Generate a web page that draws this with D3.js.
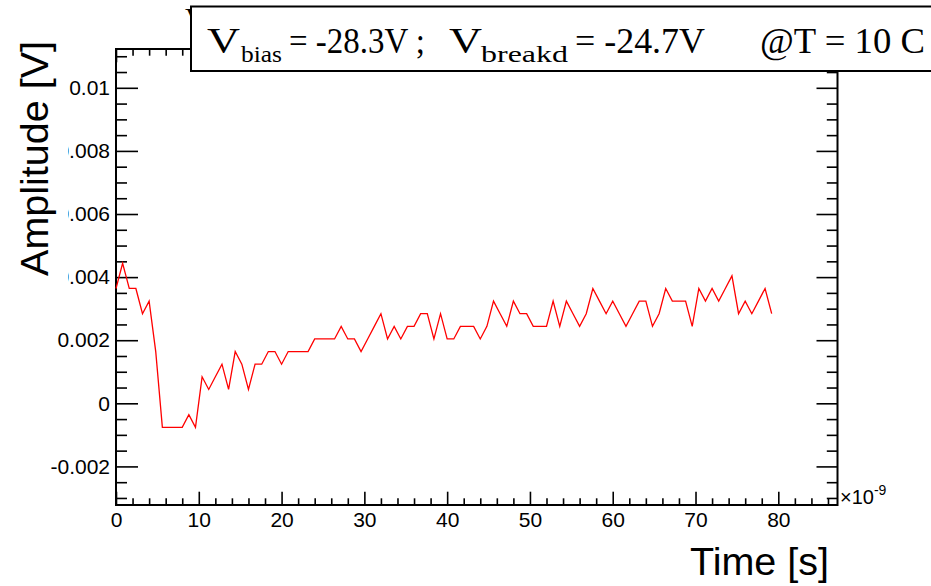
<!DOCTYPE html>
<html>
<head>
<meta charset="utf-8">
<script src="https://cdn.jsdelivr.net/npm/d3@7"></script>
<style>
  html, body { margin: 0; padding: 0; background: #fff; }
  svg { display: block; }
</style>
</head>
<body>
<svg id="chart" width="931" height="586"></svg>
<script>
// Waveform samples: time in ns (axis is shown in units of 1e-9 s), amplitude in V
const timeNs = [
  0.0, 0.8, 1.6, 2.4, 3.2, 4.0, 4.8, 5.6, 6.4, 7.2,
  8.0, 8.8, 9.6, 10.4, 11.2, 12.0, 12.8, 13.6, 14.4, 15.2,
  16.0, 16.8, 17.6, 18.4, 19.2, 20.0, 20.8, 21.6, 22.4, 23.2,
  24.0, 24.8, 25.6, 26.4, 27.2, 28.0, 28.8, 29.6, 30.4, 31.2,
  32.0, 32.8, 33.6, 34.4, 35.2, 36.0, 36.8, 37.6, 38.4, 39.2,
  40.0, 40.8, 41.6, 42.4, 43.2, 44.0, 44.8, 45.6, 46.4, 47.2,
  48.0, 48.8, 49.6, 50.4, 51.2, 52.0, 52.8, 53.6, 54.4, 55.2,
  56.0, 56.8, 57.6, 58.4, 59.2, 60.0, 60.8, 61.6, 62.4, 63.2,
  64.0, 64.8, 65.6, 66.4, 67.2, 68.0, 68.8, 69.6, 70.4, 71.2,
  72.0, 72.8, 73.6, 74.4, 75.2, 76.0, 76.8, 77.6, 78.4, 79.2
];
const amplitudeV = [
  0.00364, 0.00444, 0.00364, 0.00364, 0.00284, 0.00324, 0.00164, -0.00076, -0.00076, -0.00076,
  -0.00076, -0.00036, -0.00076, 0.00084, 0.00044, 0.00084, 0.00124, 0.00044, 0.00164, 0.00124,
  0.00044, 0.00124, 0.00124, 0.00164, 0.00164, 0.00124, 0.00164, 0.00164, 0.00164, 0.00164,
  0.00204, 0.00204, 0.00204, 0.00204, 0.00244, 0.00204, 0.00204, 0.00164, 0.00204, 0.00244,
  0.00284, 0.00204, 0.00244, 0.00204, 0.00244, 0.00244, 0.00284, 0.00284, 0.00204, 0.00284,
  0.00204, 0.00204, 0.00244, 0.00244, 0.00244, 0.00204, 0.00244, 0.00324, 0.00284, 0.00244,
  0.00324, 0.00284, 0.00284, 0.00244, 0.00244, 0.00244, 0.00324, 0.00244, 0.00324, 0.00284,
  0.00244, 0.00284, 0.00364, 0.00324, 0.00284, 0.00324, 0.00284, 0.00244, 0.00284, 0.00324,
  0.00324, 0.00244, 0.00284, 0.00364, 0.00324, 0.00324, 0.00324, 0.00244, 0.00364, 0.00324,
  0.00364, 0.00324, 0.00364, 0.00404, 0.00284, 0.00324, 0.00284, 0.00324, 0.00364, 0.00284
];

// Axis ranges and tick marks
const xDomain = [0, 87.15];
const yDomain = [-0.003223, 0.01123];
const xMajorTicks = [0, 10, 20, 30, 40, 50, 60, 70, 80];
const xMinorTicks = [2, 4, 6, 8, 12, 14, 16, 18, 22, 24, 26, 28, 32, 34, 36, 38, 42, 44, 46, 48,
                     52, 54, 56, 58, 62, 64, 66, 68, 72, 74, 76, 78, 82, 84, 86];
const yMajorTicks = [-0.002, 0, 0.002, 0.004, 0.006, 0.008, 0.01];
const yTickLabels = ["-0.002", "0", "0.002", "0.004", "0.006", "0.008", "0.01"];
const yMinorTicks = [-0.003, -0.0025, -0.0015, -0.001, -0.0005, 0.0005, 0.001, 0.0015,
                     0.0025, 0.003, 0.0035, 0.0045, 0.005, 0.0055, 0.0065, 0.007, 0.0075,
                     0.0085, 0.009, 0.0095, 0.0105, 0.011];

const xTitle = "Time [s]";
const yTitle = "Amplitude [V]";

const svg = d3.select("#chart");
const frame = { left: 116, right: 837.5, top: 49, bottom: 505 };

const x = d3.scaleLinear().domain(xDomain).range([frame.left, frame.right]);
const y = d3.scaleLinear().domain(yDomain).range([frame.bottom, frame.top]);

const sansFont = "'Liberation Sans', Arial, Helvetica, sans-serif";
const serifFont = "'Liberation Serif', 'Times New Roman', serif";

function styleAxis(g) {
  g.select(".domain").remove();
  g.selectAll(".tick line").attr("stroke", "#000").attr("stroke-width", 1.6);
  g.selectAll(".tick text").attr("fill", "#000").attr("font-family", sansFont).attr("font-size", 21);
}

// Bottom axis: labelled major ticks pointing into the frame
svg.append("g")
  .attr("transform", `translate(0,${frame.bottom})`)
  .call(d3.axisBottom(x).tickValues(xMajorTicks).tickSize(-13.3).tickPadding(7).tickFormat(d3.format("d")))
  .call(styleAxis);
svg.append("g")
  .attr("transform", `translate(0,${frame.bottom})`)
  .call(d3.axisBottom(x).tickValues(xMinorTicks).tickSize(-6.7).tickFormat(""))
  .call(styleAxis);

// Top axis mirrors the bottom one
svg.append("g")
  .attr("transform", `translate(0,${frame.top})`)
  .call(d3.axisTop(x).tickValues(xMajorTicks).tickSize(-13.3).tickFormat(""))
  .call(styleAxis);
svg.append("g")
  .attr("transform", `translate(0,${frame.top})`)
  .call(d3.axisTop(x).tickValues(xMinorTicks).tickSize(-6.7).tickFormat(""))
  .call(styleAxis);

// Left axis with labels
svg.append("g")
  .attr("transform", `translate(${frame.left},0)`)
  .call(d3.axisLeft(y).tickValues(yMajorTicks).tickSize(-22).tickPadding(6)
        .tickFormat((d, i) => yTickLabels[i]))
  .call(styleAxis);
svg.append("g")
  .attr("transform", `translate(${frame.left},0)`)
  .call(d3.axisLeft(y).tickValues(yMinorTicks).tickSize(-11).tickFormat(""))
  .call(styleAxis);

// Right axis mirrors the left one
svg.append("g")
  .attr("transform", `translate(${frame.right},0)`)
  .call(d3.axisRight(y).tickValues(yMajorTicks).tickSize(-21).tickFormat(""))
  .call(styleAxis);
svg.append("g")
  .attr("transform", `translate(${frame.right},0)`)
  .call(d3.axisRight(y).tickValues(yMinorTicks).tickSize(-10.7).tickFormat(""))
  .call(styleAxis);

// Frame
svg.append("rect")
  .attr("x", frame.left).attr("y", frame.top)
  .attr("width", frame.right - frame.left).attr("height", frame.bottom - frame.top)
  .attr("fill", "none").attr("stroke", "#000").attr("stroke-width", 2);

// Waveform
const points = timeNs.map((t, i) => [t, amplitudeV[i]]);
svg.append("path")
  .datum(points)
  .attr("fill", "none")
  .attr("stroke", "#ff0000")
  .attr("stroke-width", 1.3)
  .attr("stroke-linejoin", "miter")
  .attr("d", d3.line().x(d => x(d[0])).y(d => y(d[1])));

// Axis exponent
const expo = svg.append("text")
  .attr("x", 840).attr("y", 503.5)
  .attr("font-family", sansFont).attr("font-size", 20).attr("fill", "#000");
expo.append("tspan").text("\u00d710");
expo.append("tspan").attr("font-size", 14).attr("dy", -9).text("-9");

// Axis titles (the y title sits on a white backing)
svg.append("rect").attr("x", 0).attr("y", 30).attr("width", 68).attr("height", 262).attr("fill", "#fff");
svg.append("text")
  .attr("transform", "translate(48,41) rotate(-90)")
  .attr("text-anchor", "end")
  .attr("font-family", sansFont).attr("font-size", 39.5).attr("fill", "#000")
  .text(yTitle);
svg.append("text")
  .attr("x", 829).attr("y", 575)
  .attr("text-anchor", "end")
  .attr("font-family", sansFont).attr("font-size", 39.5).attr("fill", "#000")
  .text(xTitle);

// Hidden plot title peeking out at the box corner
svg.append("text")
  .attr("x", 185).attr("y", 28)
  .attr("font-family", serifFont).attr("font-size", 30).attr("fill", "#000")
  .text("V");

// Run conditions box
svg.append("rect")
  .attr("x", 191).attr("y", 6.5).attr("width", 760).attr("height", 64.5)
  .attr("fill", "#fff").attr("stroke", "#000").attr("stroke-width", 2);

const labelParts = [
  { text: "V", x: 207, sub: false, len: 33 },
  { text: "bias", x: 241, sub: true, len: 41 },
  { text: "= -28.3V ;", x: 289, sub: false, len: 136 },
  { text: "V", x: 449, sub: false, len: 33 },
  { text: "breakd", x: 481, sub: true, len: 87 },
  { text: "= -24.7V", x: 575, sub: false, len: 130 },
  { text: "@T = 10 C", x: 760, sub: false, len: 165 }
];
const label = svg.append("g").attr("font-family", serifFont).attr("fill", "#000");
label.selectAll("text")
  .data(labelParts)
  .join("text")
  .attr("x", d => d.x)
  .attr("y", d => d.sub ? 62 : 53)
  .attr("font-size", d => d.sub ? 24 : 36)
  .attr("textLength", d => d.len)
  .attr("lengthAdjust", "spacingAndGlyphs")
  .text(d => d.text);
</script>
</body>
</html>
